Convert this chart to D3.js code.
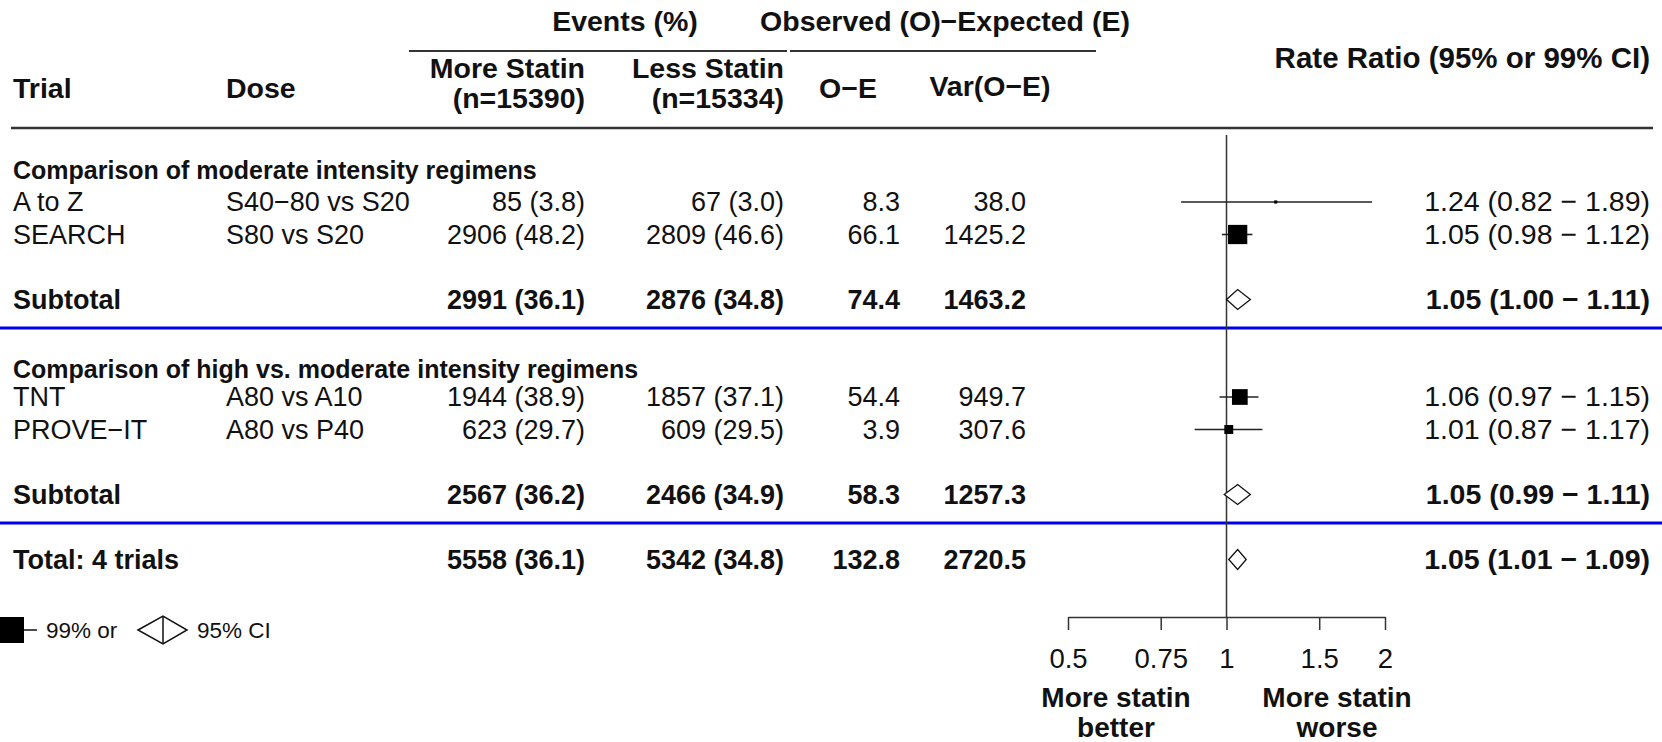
<!DOCTYPE html>
<html>
<head>
<meta charset="utf-8">
<script src="https://cdn.jsdelivr.net/npm/d3@7"></script>
<style>
  body { margin: 0; background: #fff; }
  svg { display: block; font-family: "Liberation Sans", Arial, sans-serif; }
</style>
</head>
<body>
<svg id="forest_region"></svg>
<script>
const groupTitles = ["Comparison of moderate intensity regimens", "Comparison of high vs. moderate intensity regimens"];
const trials = ["A to Z", "SEARCH", "TNT", "PROVE\u2212IT"];
const doses = ["S40\u221280 vs S20", "S80 vs S20", "A80 vs A10", "A80 vs P40"];
const moreEvents = [85, 2906, 1944, 623];
const morePct = [3.8, 48.2, 38.9, 29.7];
const lessEvents = [67, 2809, 1857, 609];
const lessPct = [3.0, 46.6, 37.1, 29.5];
const oMinusE = [8.3, 66.1, 54.4, 3.9];
const varOE = [38.0, 1425.2, 949.7, 307.6];
const rateRatio = [1.24, 1.05, 1.06, 1.01];
const ciLow = [0.82, 0.98, 0.97, 0.87];
const ciHigh = [1.89, 1.12, 1.15, 1.17];

const subLabels = ["Subtotal", "Subtotal", "Total: 4 trials"];
const subMore = [2991, 2567, 5558];
const subMorePct = [36.1, 36.2, 36.1];
const subLess = [2876, 2466, 5342];
const subLessPct = [34.8, 34.9, 34.8];
const subOE = [74.4, 58.3, 132.8];
const subVar = [1463.2, 1257.3, 2720.5];
const subRR = [1.05, 1.05, 1.05];
const subLow = [1.00, 0.99, 1.01];
const subHigh = [1.11, 1.11, 1.09];

const tickValues = [0.5, 0.75, 1, 1.5, 2];

class ForestPlot {
  constructor() {
    this.svg = null;
    this.xscale = null;
    this.yscale = null;
  }

  init() {
    this.makeFig();
  }

  makeFig() {
    const width = 1662;
    const height = 742;
    const fs = 27;      // body text
    const hs = 28.5;    // column headers
    const col = {trial: 13, dose: 226, more: 585, less: 784, oe: 900, v: 1026, rr: 1650};

    this.svg = d3.select('#forest_region')
        .attr('width', width)
        .attr('height', height);
    this.svg.selectAll('*').remove();

    // row index -> baseline
    this.yscale = d3.scaleLinear().domain([0, 12]).range([178.5, 568.5]);
    this.xscale = d3.scaleLog().domain([0.5, 2]).range([1068, 1385]);
    const y = this.yscale, x = this.xscale;

    const trialRows = [1, 2, 7, 8];
    const groupRows = [0, 6.15];
    const subRows = [4, 10, 12];

    const txt = (tx, ty, s, anchor, bold, size) => this.svg.append('text')
        .attr('x', tx).attr('y', ty)
        .attr('text-anchor', anchor || 'start')
        .attr('font-size', (size || fs) + 'px')
        .attr('font-weight', bold ? 'bold' : 'normal')
        .attr('fill', '#111')
        .text(s);
    const hline = (x1, x2, yy, color, w) => this.svg.append('line')
        .attr('x1', x1).attr('x2', x2).attr('y1', yy).attr('y2', yy)
        .attr('stroke', color).attr('stroke-width', w);

    // header
    txt(625, 31, "Events (%)", 'middle', true, hs);
    txt(945, 31, "Observed (O)\u2212Expected (E)", 'middle', true, hs);
    hline(409, 787, 51, '#333', 2);
    hline(790, 1096, 51, '#333', 2);
    txt(col.trial, 98, "Trial", 'start', true, hs);
    txt(col.dose, 98, "Dose", 'start', true, hs);
    txt(col.more, 78, "More Statin", 'end', true, hs);
    txt(col.more, 108, "(n=15390)", 'end', true, hs);
    txt(col.less, 78, "Less Statin", 'end', true, hs);
    txt(col.less, 108, "(n=15334)", 'end', true, hs);
    txt(848, 98, "O\u2212E", 'middle', true, hs);
    txt(990, 96, "Var(O\u2212E)", 'middle', true, hs);
    txt(col.rr, 68, "Rate Ratio (95% or 99% CI)", 'end', true, 29.5);
    hline(11, 1653, 128, '#333', 2.5);

    // separators
    hline(0, width, y(4.6), '#0000ee', 3);
    hline(0, width, y(10.6), '#0000ee', 3);

    // reference line and axis
    this.svg.append('line')
        .attr('x1', x(1)).attr('x2', x(1))
        .attr('y1', 135).attr('y2', 617)
        .attr('stroke', '#333').attr('stroke-width', 1.5);

    const xaxis = d3.axisBottom(x)
        .tickValues(tickValues)
        .tickFormat(d => String(d))
        .tickSize(13)
        .tickSizeOuter(0);
    const ax = this.svg.append('g')
        .attr('transform', 'translate(0, 617)')
        .call(xaxis);
    ax.select('.domain').attr('stroke', '#333').attr('stroke-width', 1.5);
    ax.selectAll('.tick line').attr('stroke', '#333').attr('stroke-width', 1.5);
    ax.selectAll('.tick text')
        .attr('font-size', '27.5px')
        .attr('font-family', '"Liberation Sans", Arial, sans-serif')
        .attr('fill', '#111')
        .attr('y', 51).attr('dy', null);
    txt(1116, 707, "More statin", 'middle', true, 28);
    txt(1116, 737, "better", 'middle', true, 28);
    txt(1337, 707, "More statin", 'middle', true, 28);
    txt(1337, 737, "worse", 'middle', true, 28);

    // group titles
    groupTitles.forEach((g, i) => txt(col.trial, y(groupRows[i]), g, 'start', true, 25));

    // trials
    const k = 0.51;
    trials.forEach((t, i) => {
      const yy = y(trialRows[i]);
      txt(col.trial, yy, t);
      txt(col.dose, yy, doses[i]);
      txt(col.more, yy, `${moreEvents[i]} (${morePct[i].toFixed(1)})`, 'end');
      txt(col.less, yy, `${lessEvents[i]} (${lessPct[i].toFixed(1)})`, 'end');
      txt(col.oe, yy, oMinusE[i].toFixed(1), 'end');
      txt(col.v, yy, varOE[i].toFixed(1), 'end');
      txt(col.rr, yy, `${rateRatio[i].toFixed(2)} (${ciLow[i].toFixed(2)} \u2212 ${ciHigh[i].toFixed(2)})`, 'end', false, 28.5);

      const cy = yy - 9;
      this.svg.append('line')
          .attr('x1', x(ciLow[i])).attr('x2', x(ciHigh[i]))
          .attr('y1', cy).attr('y2', cy)
          .attr('stroke', '#222').attr('stroke-width', 1.6);
      const s = k * Math.sqrt(varOE[i]);
      this.svg.append('rect')
          .attr('x', x(rateRatio[i]) - s / 2).attr('y', cy - s / 2)
          .attr('width', s).attr('height', s)
          .attr('fill', '#000');
    });

    // subtotals and total
    subLabels.forEach((t, i) => {
      const yy = y(subRows[i]);
      txt(col.trial, yy, t, 'start', true);
      txt(col.more, yy, `${subMore[i]} (${subMorePct[i].toFixed(1)})`, 'end', true);
      txt(col.less, yy, `${subLess[i]} (${subLessPct[i].toFixed(1)})`, 'end', true);
      txt(col.oe, yy, subOE[i].toFixed(1), 'end', true);
      txt(col.v, yy, subVar[i].toFixed(1), 'end', true);
      txt(col.rr, yy, `${subRR[i].toFixed(2)} (${subLow[i].toFixed(2)} \u2212 ${subHigh[i].toFixed(2)})`, 'end', true, 28.5);

      const cy = yy - 9, h = 10;
      const pts = [[x(subLow[i]), cy], [x(subRR[i]), cy - h], [x(subHigh[i]), cy], [x(subRR[i]), cy + h]];
      this.svg.append('polygon')
          .attr('points', pts.map(p => p.join(',')).join(' '))
          .attr('fill', '#fff').attr('stroke', '#111').attr('stroke-width', 1.3);
    });

    // legend
    this.svg.append('rect')
        .attr('x', -2).attr('y', 617).attr('width', 26).attr('height', 26)
        .attr('fill', '#000');
    hline(24, 37, 630, '#111', 1.5);
    txt(46, 638, "99% or", 'start', false, 22.5);
    const lx = [138, 163, 187], ly = [616, 630, 644];
    this.svg.append('polygon')
        .attr('points', `${lx[0]},${ly[1]} ${lx[1]},${ly[0]} ${lx[2]},${ly[1]} ${lx[1]},${ly[2]}`)
        .attr('fill', '#fff').attr('stroke', '#111').attr('stroke-width', 1.5);
    this.svg.append('line')
        .attr('x1', lx[1]).attr('x2', lx[1]).attr('y1', ly[0]).attr('y2', ly[2])
        .attr('stroke', '#111').attr('stroke-width', 1.5);
    txt(197, 638, "95% CI", 'start', false, 22.5);
  }
}

const fp = new ForestPlot();
fp.init();
</script>
</body>
</html>
